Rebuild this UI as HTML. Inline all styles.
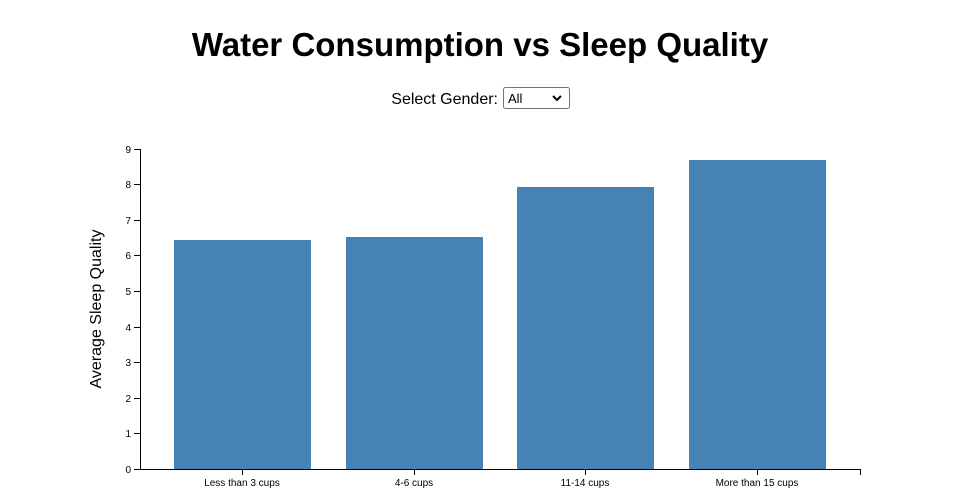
<!DOCTYPE html>
<html><head><style>
body{margin:0;width:960px;height:500px;background:#fff;font-family:"Liberation Sans","DejaVu Sans",sans-serif;overflow:hidden}
</style></head><body>
<svg width="960" height="500" xmlns="http://www.w3.org/2000/svg" style="position:absolute;left:0;top:0">
<text x="480" y="56" text-anchor="middle" font-size="33" font-weight="bold" font-family="Liberation Sans, DejaVu Sans, sans-serif">Water Consumption vs Sleep Quality</text>
<text x="498" y="104" text-anchor="end" font-size="16">Select Gender:</text>
<rect x="503.5" y="87.5" width="66" height="21" rx="2" fill="#fff" stroke="#767676"/>
<text x="508" y="103" font-size="13">All</text>
<path d="M553 96 l4 4 l4 -4" fill="none" stroke="#000" stroke-width="2"/>
<g fill="#4682b4">
<rect x="174" y="240" width="137" height="229"/>
<rect x="346" y="237" width="137" height="232"/>
<rect x="517" y="187" width="137" height="282"/>
<rect x="689" y="160" width="137" height="309"/>
</g>
<g stroke="#000" fill="none">
<path d="M134 149.5H140.5V469.5H860.5V475"/>
<path d="M134 184.5h6M134 220.5h6M134 255.5h6M134 291.5h6M134 327.5h6M134 362.5h6M134 398.5h6M134 433.5h6M134 469.5h6"/>
<path d="M242.5 469v6M414.5 469v6M585.5 469v6M757.5 469v6"/>
</g>
<g font-size="10" text-anchor="end" fill="#000">
<text x="131" y="153">9</text><text x="131" y="188">8</text><text x="131" y="224">7</text><text x="131" y="259">6</text><text x="131" y="295">5</text><text x="131" y="331">4</text><text x="131" y="366">3</text><text x="131" y="402">2</text><text x="131" y="437">1</text><text x="131" y="473">0</text>
</g>
<g font-size="10" text-anchor="middle">
<text x="242" y="486">Less than 3 cups</text><text x="414" y="486">4-6 cups</text><text x="585" y="486">11-14 cups</text><text x="757" y="486">More than 15 cups</text>
</g>
<text transform="translate(101,309) rotate(-90)" text-anchor="middle" font-size="16">Average Sleep Quality</text>
</svg>
</body></html>
